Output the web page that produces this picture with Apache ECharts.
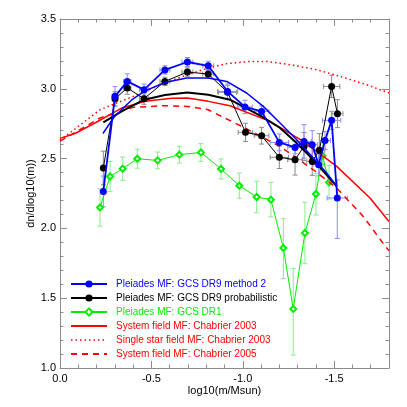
<!DOCTYPE html>
<html>
<head>
<meta charset="utf-8">
<script src="https://cdn.jsdelivr.net/npm/echarts@6/dist/echarts.min.js"></script>
<style>
  html, body { margin: 0; padding: 0; background: #fff; }
  #main { width: 407px; height: 407px; }
</style>
</head>
<body>
<div id="main"></div>
<script>
// GCS DR9 method 2 (blue)
const blueX = [-0.237, -0.301, -0.368, -0.460, -0.574, -0.697, -0.811, -0.917, -1.012, -1.103, -1.200, -1.286, -1.335, -1.380, -1.415, -1.450, -1.486, -1.517]
const blueY = [2.265, 2.946, 3.053, 2.994, 3.135, 3.192, 3.165, 2.981, 2.870, 2.838, 2.616, 2.580, 2.623, 2.600, 2.456, 2.630, 2.774, 2.218]
const blueErrX = [0.01, 0.015, 0.02, 0.025, 0.027, 0.03, 0.03, 0.055, 0.04, 0.04, 0.05, 0.04, 0.04, 0.03, 0.03, 0.03, 0.05, 0.055]
const blueErrLo = [0.11, 0.07, 0.054, 0.04, 0.03, 0.032, 0.032, 0.054, 0.048, 0.04, 0.06, 0.045, 0.12, 0.1, 0.08, 0.065, 0.065, 0.29]
const blueErrHi = [0.11, 0.07, 0.054, 0.04, 0.03, 0.032, 0.032, 0.054, 0.048, 0.04, 0.06, 0.045, 0.12, 0.1, 0.08, 0.065, 0.065, 0.13]

// GCS DR9 probabilistic (black)
const blackX = [-0.237, -0.301, -0.368, -0.460, -0.574, -0.697, -0.811, -0.917, -1.015, -1.103, -1.200, -1.286, -1.335, -1.380, -1.419, -1.486, -1.518]
const blackY = [2.433, 2.929, 3.006, 2.929, 3.053, 3.120, 3.106, 2.975, 2.688, 2.664, 2.509, 2.492, 2.587, 2.480, 2.559, 3.017, 2.822]
const blackErrX = [0.01, 0.015, 0.02, 0.025, 0.027, 0.03, 0.03, 0.05, 0.04, 0.04, 0.05, 0.04, 0.04, 0.03, 0.03, 0.045, 0.03]
const blackErr = [0.12, 0.05, 0.045, 0.04, 0.03, 0.03, 0.03, 0.05, 0.065, 0.06, 0.08, 0.11, 0.1, 0.1, 0.12, 0.08, 0.1]

// GCS DR1 (green)
const greenX = [-0.219, -0.274, -0.343, -0.423, -0.534, -0.653, -0.771, -0.881, -0.981, -1.076, -1.154, -1.222, -1.276, -1.340, -1.400, -1.436, -1.472]
const greenY = [2.150, 2.372, 2.428, 2.499, 2.487, 2.528, 2.544, 2.426, 2.306, 2.225, 2.206, 1.860, 1.423, 1.967, 2.246, 2.52, 2.33]
const greenErrHi = [0.134, 0.107, 0.083, 0.068, 0.06, 0.06, 0.063, 0.072, 0.09, 0.113, 0.124, 0.21, 0.29, 0.22, 0.15, 0.1, 0.12]
const greenErrLo = [0.134, 0.107, 0.083, 0.068, 0.06, 0.06, 0.063, 0.072, 0.09, 0.113, 0.124, 0.22, 0.33, 0.22, 0.15, 0.1, 0.12]

// fits to the DR9 MFs
const blueFitX = [-0.235, -0.297, -0.392, -0.465, -0.574, -0.693, -0.811, -0.912, -1.021, -1.112, -1.204, -1.295, -1.386, -1.459, -1.514]
const blueFitY = [2.68, 2.80, 2.92, 2.985, 3.045, 3.077, 3.077, 3.053, 2.970, 2.874, 2.755, 2.635, 2.504, 2.397, 2.301]
const blackFitX = [-0.237, -0.337, -0.461, -0.574, -0.697, -0.811, -0.930, -1.103, -1.204, -1.295, -1.386, -1.514]
const blackFitY = [2.76, 2.838, 2.922, 2.955, 2.974, 2.958, 2.922, 2.802, 2.719, 2.611, 2.492, 2.301]

// Chabrier field MFs (red)
const sys03X = [0, -0.082, -0.191, -0.337, -0.465, -0.611, -0.697, -0.811, -0.930, -1.149, -1.331, -1.514, -1.696, -1.8]
const sys03Y = [2.645, 2.680, 2.755, 2.862, 2.910, 2.932, 2.934, 2.910, 2.879, 2.767, 2.623, 2.444, 2.218, 2.05]
const single03X = [0, -0.219, -0.401, -0.574, -0.697, -0.811, -0.912, -1.039, -1.131, -1.258, -1.404, -1.532, -1.678, -1.8]
const single03Y = [2.63, 2.85, 2.946, 3.042, 3.101, 3.149, 3.180, 3.196, 3.196, 3.173, 3.137, 3.089, 3.029, 2.97]
const sys05X = [0, -0.219, -0.401, -0.574, -0.697, -0.811, -1.012, -1.204, -1.386, -1.514, -1.659, -1.78, -1.8]
const sys05Y = [2.625, 2.791, 2.867, 2.879, 2.874, 2.850, 2.719, 2.587, 2.420, 2.289, 2.086, 1.871, 1.84]

const names = [
  'Pleiades MF: GCS DR9 method 2',
  'Pleiades MF: GCS DR9 probabilistic',
  'Pleiades MF: GCS DR1',
  'System field MF: Chabrier 2003',
  'Single star field MF: Chabrier 2003',
  'System field MF: Chabrier 2005'
]

const BLUE = '#0000ff'
const BLACK = '#000000'
const GREEN = '#00ee00'
const RED = '#ff0000'
const FRAME = '#8c8c8c'
const FONT = '"Liberation Sans", Arial, sans-serif'

const pairs = (xs, ys) => xs.map((x, i) => [x, ys[i]])

function errorBars(color, withX) {
  return function(params, api) {
    const x = api.value(0)
    const y = api.value(1)
    const ex = api.value(2)
    const lo = api.value(3)
    const hi = api.value(4)
    const top = api.coord([x, y + hi])
    const bot = api.coord([x, y - lo])
    const cap = 2.5
    const style = { stroke: color, lineWidth: 1 }
    const children = [
      { type: 'line', shape: { x1: top[0], y1: top[1], x2: bot[0], y2: bot[1] }, style },
      { type: 'line', shape: { x1: top[0] - cap, y1: top[1], x2: top[0] + cap, y2: top[1] }, style },
      { type: 'line', shape: { x1: bot[0] - cap, y1: bot[1], x2: bot[0] + cap, y2: bot[1] }, style }
    ]
    if (withX && ex > 0) {
      const l = api.coord([x - ex, y])
      const r = api.coord([x + ex, y])
      children.push(
        { type: 'line', shape: { x1: l[0], y1: l[1], x2: r[0], y2: r[1] }, style },
        { type: 'line', shape: { x1: l[0], y1: l[1] - cap, x2: l[0], y2: l[1] + cap }, style },
        { type: 'line', shape: { x1: r[0], y1: r[1] - cap, x2: r[0], y2: r[1] + cap }, style }
      )
    }
    return { type: 'group', children }
  }
}

const blueErrData = blueX.map((x, i) => [x, blueY[i], blueErrX[i], blueErrLo[i], blueErrHi[i]])
const blackErrData = blackX.map((x, i) => [x, blackY[i], blackErrX[i], blackErr[i], blackErr[i]])
const greenErrData = greenX.map((x, i) => [x, greenY[i], 0, greenErrLo[i], greenErrHi[i]])

const xMain = (pos, labels) => ({
  type: 'value', position: pos, min: -1.8, max: 0, inverse: true,
  splitNumber: 4, minInterval: 0.5, maxInterval: 0.5,
  axisLine: { show: true, onZero: false, lineStyle: { color: FRAME, width: 1 } },
  axisTick: { show: true, inside: true, length: 7, lineStyle: { color: FRAME } },
  axisLabel: {
    show: labels, color: '#000', fontSize: 11, fontFamily: FONT, margin: 5,
    formatter: v => (Math.abs(v * 2 - Math.round(v * 2)) < 1e-6 ? v.toFixed(1) : '')
  },
  splitLine: { show: false }
})
const xMinor = pos => ({
  type: 'value', position: pos, min: -1.8, max: 0, inverse: true, interval: 0.1,
  axisLine: { show: false, onZero: false },
  axisTick: { show: true, inside: true, length: 3.5, lineStyle: { color: FRAME } },
  axisLabel: { show: false },
  splitLine: { show: false }
})
const yAxisDef = (pos, labels) => ({
  type: 'value', position: pos, min: 1.0, max: 3.5, interval: 0.5,
  axisLine: { show: true, onZero: false, lineStyle: { color: FRAME, width: 1 } },
  axisTick: { show: true, inside: true, length: 7, lineStyle: { color: FRAME } },
  minorTick: { show: true, splitNumber: 5, length: 3.5, lineStyle: { color: FRAME } },
  axisLabel: { show: labels, color: '#000', fontSize: 11, fontFamily: FONT, margin: 4, formatter: v => v.toFixed(1) },
  splitLine: { show: false },
  minorSplitLine: { show: false }
})

const chart = echarts.init(document.getElementById('main'))
const xBottom = xMain('bottom', true)
xBottom.name = 'log10(m/Msun)'
xBottom.nameLocation = 'middle'
xBottom.nameGap = 17
xBottom.nameMoveOverlap = false
xBottom.nameTextStyle = { color: '#000', fontSize: 11, fontFamily: FONT }
const yLeft = yAxisDef('left', true)
yLeft.name = 'dn/dlog10(m))'
yLeft.nameLocation = 'middle'
yLeft.nameGap = 24
yLeft.nameMoveOverlap = false
yLeft.nameTextStyle = { color: '#000', fontSize: 11, fontFamily: FONT }

const option = {
  animation: false,
  backgroundColor: '#fff',
  grid: { left: 60, right: 18, top: 19, bottom: 39 },
  xAxis: [xBottom, xMinor('bottom'), xMain('top', false), xMinor('top')],
  yAxis: [yLeft, yAxisDef('right', false)],
  legend: {
    orient: 'vertical', left: 70, top: 278, padding: 0,
    itemWidth: 36, itemHeight: 9, itemGap: 2,
    textStyle: { fontSize: 10, fontFamily: FONT, lineHeight: 12, padding: [0, 0, 0, 4] },
    selectedMode: false,
    data: [
      { name: names[0], textStyle: { color: BLUE }, lineStyle: { width: 2 } },
      { name: names[1], textStyle: { color: BLACK }, lineStyle: { width: 2 } },
      { name: names[2], textStyle: { color: GREEN }, lineStyle: { width: 2 } },
      { name: names[3], textStyle: { color: RED }, itemStyle: { opacity: 0 }, lineStyle: { width: 2 } },
      { name: names[4], textStyle: { color: RED }, itemStyle: { opacity: 0 }, lineStyle: { width: 1.5 } },
      { name: names[5], textStyle: { color: RED }, itemStyle: { opacity: 0 }, lineStyle: { width: 2 } }
    ]
  },
  series: [
    { type: 'custom', name: 'green err', renderItem: errorBars('#88ee88', false), data: greenErrData, encode: { x: 0, y: 1 }, clip: true, z: 1, silent: true },
    { type: 'custom', name: 'black err', renderItem: errorBars('#8a8a8a', true), data: blackErrData, encode: { x: 0, y: 1 }, clip: true, z: 1, silent: true },
    { type: 'custom', name: 'blue err', renderItem: errorBars('#8c8cff', true), data: blueErrData, encode: { x: 0, y: 1 }, clip: true, z: 1, silent: true },
    {
      name: names[2], type: 'line', data: pairs(greenX, greenY), z: 2,
      symbol: 'emptyDiamond', symbolSize: 6,
      itemStyle: { color: GREEN, borderWidth: 1 },
      lineStyle: { color: GREEN, width: 1 }
    },
    {
      name: names[3], type: 'line', data: pairs(sys03X, sys03Y), z: 3, showSymbol: false, symbol: 'none',
      itemStyle: { color: RED }, lineStyle: { color: RED, width: 1.5 }
    },
    {
      name: names[4], type: 'line', data: pairs(single03X, single03Y), z: 3, showSymbol: false, symbol: 'none',
      itemStyle: { color: RED }, lineStyle: { color: RED, width: 1.5, type: [1.5, 3] }
    },
    {
      name: names[5], type: 'line', data: pairs(sys05X, sys05Y), z: 3, showSymbol: false, symbol: 'none',
      itemStyle: { color: RED }, lineStyle: { color: RED, width: 1.5, type: [6, 5] }
    },
    {
      name: 'black fit', type: 'line', data: pairs(blackFitX, blackFitY), z: 4, showSymbol: false, symbol: 'none',
      lineStyle: { color: BLACK, width: 2 }
    },
    {
      name: names[1], type: 'line', data: pairs(blackX, blackY), z: 4,
      symbol: 'circle', symbolSize: 7,
      itemStyle: { color: BLACK }, lineStyle: { color: BLACK, width: 1 }
    },
    {
      name: 'blue fit', type: 'line', data: pairs(blueFitX, blueFitY), z: 5, showSymbol: false, symbol: 'none',
      lineStyle: { color: BLUE, width: 1.5 }
    },
    {
      name: names[0], type: 'line', data: pairs(blueX, blueY), z: 5,
      symbol: 'circle', symbolSize: 7,
      itemStyle: { color: BLUE }, lineStyle: { color: BLUE, width: 1.8 }
    }
  ]
}
chart.setOption(option)
</script>
</body>
</html>
